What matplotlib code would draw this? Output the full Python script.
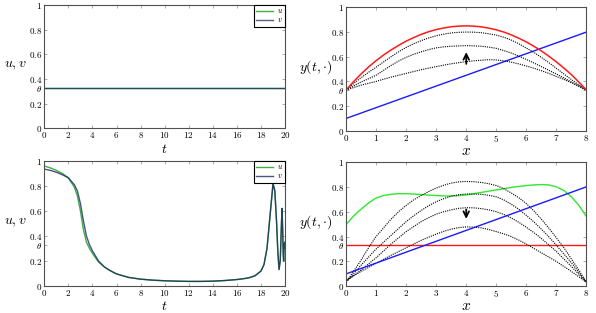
import numpy as np
import matplotlib
matplotlib.use('Agg')
import matplotlib.pyplot as plt

plt.rcParams['mathtext.fontset'] = 'cm'
plt.rcParams['font.family'] = 'serif'
plt.rcParams['font.serif'] = ['DejaVu Serif']

theta = 0.33

# time series (bottom left), u and v
t_early = [0, 0.5, 1, 1.5, 2, 2.5, 2.75, 3, 3.25, 3.5, 3.75, 4, 4.5, 5]
u_early = [0.96, 0.945, 0.925, 0.9, 0.865, 0.79, 0.72, 0.6, 0.45, 0.35, 0.3, 0.26, 0.19, 0.15]
v_early = [0.935, 0.925, 0.91, 0.89, 0.865, 0.81, 0.76, 0.66, 0.52, 0.4, 0.33, 0.28, 0.2, 0.15]
t_late = [5.5, 6, 7, 8, 9, 10, 11, 12, 13, 14, 15, 16, 16.5, 17, 17.5, 18, 18.25, 18.5,
          18.75, 19, 19.15, 19.3, 19.4, 19.5, 19.6, 19.7, 19.75, 19.8, 19.85, 19.88,
          19.92, 19.96, 20]
uv_late = [0.12, 0.095, 0.067, 0.053, 0.045, 0.04, 0.037, 0.035, 0.035, 0.037, 0.042, 0.05,
           0.056, 0.064, 0.08, 0.118, 0.17, 0.3, 0.56, 0.82, 0.76, 0.5, 0.27, 0.13, 0.2, 0.5,
           0.62, 0.45, 0.25, 0.2, 0.34, 0.3, 0.35]

# space profiles, x = 0, 0.25, ..., 8
x_grid = [0, 0.25, 0.5, 0.75, 1, 1.25, 1.5, 1.75, 2, 2.25, 2.5, 2.75, 3, 3.25, 3.5, 3.75,
          4, 4.25, 4.5, 4.75, 5, 5.25, 5.5, 5.75, 6, 6.25, 6.5, 6.75, 7, 7.25, 7.5, 7.75, 8]
x_line = [0, 8]
blue_line = [0.1, 0.8]

# top right
red_top = [0.33, 0.398, 0.46, 0.517, 0.568, 0.614, 0.655, 0.692, 0.726, 0.755, 0.781, 0.803,
           0.82, 0.833, 0.843, 0.848, 0.85, 0.848, 0.842, 0.832, 0.818, 0.80, 0.777, 0.75, 0.72,
           0.685, 0.647, 0.604, 0.558, 0.508, 0.455, 0.394, 0.33]
dot_top = [
    [0.33, 0.382, 0.43, 0.474, 0.515, 0.558, 0.60, 0.64, 0.675, 0.705, 0.73, 0.752, 0.77, 0.783,
     0.793, 0.798, 0.80, 0.799, 0.795, 0.786, 0.775, 0.758, 0.735, 0.705, 0.67, 0.635, 0.595,
     0.552, 0.506, 0.46, 0.415, 0.372, 0.33],
    [0.33, 0.363, 0.395, 0.422, 0.45, 0.49, 0.53, 0.565, 0.595, 0.62, 0.64, 0.658, 0.672, 0.68,
     0.685, 0.688, 0.69, 0.688, 0.685, 0.678, 0.668, 0.65, 0.63, 0.605, 0.578, 0.55, 0.52, 0.49,
     0.46, 0.428, 0.395, 0.363, 0.33],
    [0.33, 0.35, 0.37, 0.385, 0.40, 0.418, 0.435, 0.45, 0.465, 0.48, 0.495, 0.508, 0.52, 0.532,
     0.543, 0.552, 0.56, 0.567, 0.572, 0.576, 0.574, 0.567, 0.556, 0.542, 0.525, 0.507, 0.487,
     0.465, 0.44, 0.416, 0.39, 0.36, 0.33],
]

# bottom right
green_bot = [0.495, 0.565, 0.62, 0.67, 0.71, 0.73, 0.74, 0.745, 0.745, 0.742, 0.738, 0.733, 0.73,
             0.727, 0.726, 0.729, 0.735, 0.745, 0.755, 0.765, 0.775, 0.785, 0.795, 0.803, 0.81,
             0.815, 0.818, 0.815, 0.80, 0.77, 0.72, 0.65, 0.56]
dot_bot = [
    [0.033, 0.12, 0.21, 0.31, 0.40, 0.47, 0.54, 0.60, 0.65, 0.695, 0.73, 0.762, 0.79, 0.812, 0.83,
     0.84, 0.843, 0.841, 0.835, 0.825, 0.81, 0.785, 0.75, 0.712, 0.665, 0.607, 0.54, 0.468, 0.39,
     0.31, 0.22, 0.13, 0.033],
    [0.035, 0.10, 0.17, 0.235, 0.30, 0.355, 0.41, 0.465, 0.52, 0.567, 0.61, 0.648, 0.68, 0.705,
     0.725, 0.737, 0.742, 0.742, 0.74, 0.732, 0.72, 0.695, 0.66, 0.62, 0.57, 0.518, 0.46, 0.398,
     0.33, 0.26, 0.19, 0.112, 0.033],
    [0.04, 0.085, 0.13, 0.18, 0.23, 0.285, 0.34, 0.39, 0.44, 0.48, 0.52, 0.552, 0.58, 0.60, 0.615,
     0.627, 0.632, 0.631, 0.625, 0.615, 0.60, 0.578, 0.55, 0.515, 0.475, 0.432, 0.385, 0.333, 0.28,
     0.22, 0.16, 0.097, 0.033],
    [0.05, 0.085, 0.12, 0.152, 0.185, 0.218, 0.25, 0.28, 0.31, 0.34, 0.37, 0.395, 0.42, 0.442,
     0.46, 0.472, 0.478, 0.476, 0.47, 0.457, 0.44, 0.422, 0.40, 0.372, 0.34, 0.305, 0.27, 0.235,
     0.20, 0.16, 0.12, 0.077, 0.033],
]

yticks = [0, 0.2, theta, 0.4, 0.6, 0.8, 1]
ytick_labels = ['$0$', '$0.2$', r'$\theta$', '$0.4$', '$0.6$', '$0.8$', '$1$']

c_u = '#3fae49'
c_v = '#1c2a5c'
spine_c = '#505050'

fig = plt.figure(figsize=(5.96, 3.13), dpi=100)
ax_tl = fig.add_axes([0.0743, 0.590, 0.404, 0.394])
ax_tr = fig.add_axes([0.5805, 0.582, 0.4035, 0.3945])
ax_bl = fig.add_axes([0.0743, 0.087, 0.404, 0.3986])
ax_br = fig.add_axes([0.5805, 0.085, 0.4035, 0.3977])


def style(ax, xmax, xstep):
    ax.set_ylim(0, 1)
    ax.set_xlim(0, xmax)
    xt = np.arange(0, xmax + 0.01, xstep)
    ax.set_xticks(xt)
    ax.set_xticklabels(['$%d$' % v for v in xt])
    ax.set_yticks(yticks)
    ax.set_yticklabels(ytick_labels)
    ax.tick_params(direction='in', length=2.5, width=0.5, color='#888888',
                   labelsize=6.5, top=True, right=True, pad=1.5)
    for s in ax.spines.values():
        s.set_color(spine_c)
        s.set_linewidth(0.8)


# top left: constant state
t_const = [0, 20]
u_const = [theta, theta]
ax_tl.plot(t_const, u_const, color=c_u, lw=1.0, label='$u$')
ax_tl.plot(t_const, u_const, color=c_v, lw=1.0, alpha=0.75, label='$v$')
style(ax_tl, 20, 2)

# bottom left
ax_bl.plot(t_early + t_late, u_early + uv_late, color=c_u, lw=1.0, label='$u$')
ax_bl.plot(t_early + t_late, v_early + uv_late, color=c_v, lw=1.0, alpha=0.8, label='$v$')
style(ax_bl, 20, 2)

for ax in (ax_tl, ax_bl):
    leg = ax.legend(loc='upper right', borderaxespad=0, fancybox=False, fontsize=5.5,
                    handlelength=2.2, labelspacing=0.15, borderpad=0.3, handletextpad=0.5,
                    framealpha=1)
    leg.get_frame().set_edgecolor('black')
    leg.get_frame().set_linewidth(0.8)
    ax.set_xlabel('$t$', fontsize=10, labelpad=1)
    ax.set_ylabel('$u, v$', fontsize=10, rotation=0, va='center', ha='center')
    ax.yaxis.set_label_coords(-0.12, 0.51)

# top right
ax_tr.plot(x_line, blue_line, color='#1a1aff', lw=1.0)
for yy in dot_top:
    ax_tr.plot(x_grid, yy, color='black', lw=0.8, linestyle=(0, (1, 1)))
ax_tr.plot(x_grid, red_top, color='#ff1a1a', lw=1.1)
ax_tr.annotate('', xy=(4, 0.66), xytext=(4, 0.52),
               arrowprops=dict(arrowstyle='->', color='black', lw=1.3))
style(ax_tr, 8, 1)

# bottom right
ax_br.axhline(theta, color='#ff1a1a', lw=1.0)
ax_br.plot(x_grid, green_bot, color='#2ee82e', lw=1.0)
for yy in dot_bot:
    ax_br.plot(x_grid, yy, color='black', lw=0.8, linestyle=(0, (1, 1)))
ax_br.plot(x_line, blue_line, color='#1a1aff', lw=1.0)
ax_br.annotate('', xy=(4, 0.52), xytext=(4, 0.64),
               arrowprops=dict(arrowstyle='->', color='black', lw=1.3))
style(ax_br, 8, 1)

for ax in (ax_tr, ax_br):
    ax.set_xlabel('$x$', fontsize=11, labelpad=0)
    ax.set_ylabel(r'$y(t,{\cdot})$', fontsize=10, rotation=0, va='center', ha='center')
    ax.yaxis.set_label_coords(-0.125, 0.52)

fig.savefig('out.png', dpi=100)
